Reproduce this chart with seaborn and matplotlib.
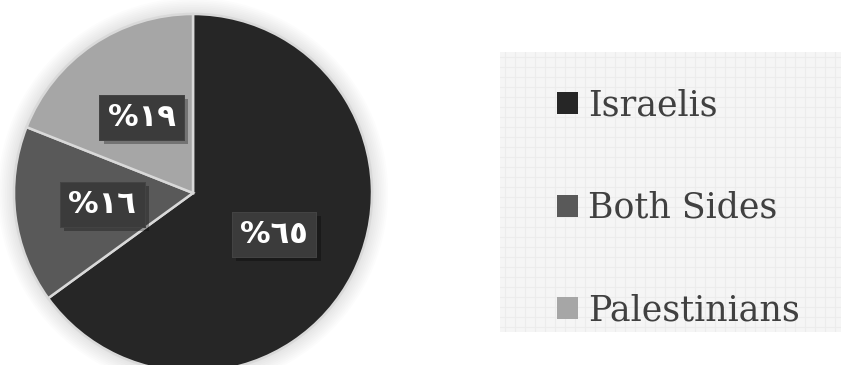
import matplotlib
matplotlib.use("Agg")
import matplotlib.pyplot as plt
import matplotlib.patheffects as pe
from matplotlib.patches import Circle
import numpy as np
import seaborn as sns

# Who is to blame for the conflict (share of respondents)
categories = ["Israelis", "Both Sides", "Palestinians"]
shares = [65, 16, 19]
colors = ["#262626", "#595959", "#a6a6a6"]

sns.set_theme(style="white")
plt.rcParams["font.family"] = ["DejaVu Sans"]

ARABIC_DIGITS = str.maketrans("0123456789", "٠١٢٣٤٥٦٧٨٩")


def arabic_pct(p):
    return "%" + str(int(round(p))).translate(ARABIC_DIGITS)


W, H = 841, 365
fig = plt.figure(figsize=(W / 100, H / 100), dpi=100)
fig.patch.set_facecolor("white")

# Legend panel with a faint grid texture
lax = fig.add_axes([500 / W, (H - 332) / H, 341 / W, 280 / H])
lax.set_facecolor("#f5f5f5")
lax.set_xlim(0, 341)
lax.set_ylim(0, 280)
for x in np.arange(5, 341, 10):
    lax.axvline(x, color="#ececec", lw=0.8, zorder=0)
for y in np.arange(5, 280, 10):
    lax.axhline(y, color="#ececec", lw=0.8, zorder=0)
lax.set_xticks([])
lax.set_yticks([])
for s in lax.spines.values():
    s.set_visible(False)

# Pie axes: radius 1 maps to 179 px, centre at (193, 193) from top-left
R = 179
L = 1.12
cx, cy = 193, H - 193
ax = fig.add_axes([(cx - L * R) / W, (cy - L * R) / H, 2 * L * R / W, 2 * L * R / H])
ax.axis("off")

# soft glow around the pie
for r in np.linspace(1.09, 1.0, 10):
    ax.add_patch(Circle((0, 0), r, color="#000000", alpha=0.012, lw=0, zorder=0))

wedges, texts, autotexts = ax.pie(
    shares,
    colors=colors,
    startangle=90,
    counterclock=False,
    radius=1,
    autopct=arabic_pct,
    pctdistance=0.51,
    wedgeprops=dict(edgecolor="#d9d9d9", linewidth=1.8),
    frame=False,
)
ax.set_xlim(-L, L)
ax.set_ylim(-L, L)

for t in autotexts:
    t.set_color("white")
    t.set_fontsize(22)
    t.set_fontweight("bold")
    t.set_bbox(dict(boxstyle="square,pad=0.27", fc="#3b3b3b", ec="#454545", lw=0.6))
    t.get_bbox_patch().set_path_effects(
        [pe.withSimplePatchShadow(offset=(3, -3), shadow_rgbFace="black", alpha=0.3), pe.Normal()]
    )

leg = fig.legend(
    wedges,
    categories,
    loc="center left",
    bbox_to_anchor=(557 / W, (H - 208) / H),
    frameon=False,
    prop=dict(family="DejaVu Serif", size=25),
    labelcolor="#404040",
    handlelength=0.6,
    handleheight=0.6,
    handletextpad=0.3,
    labelspacing=1.97,
    borderpad=0,
    borderaxespad=0,
)
for h in leg.legend_handles:
    h.set_edgecolor("none")
    h.set_linewidth(0)

fig.savefig("out.png", dpi=100, facecolor="white")
